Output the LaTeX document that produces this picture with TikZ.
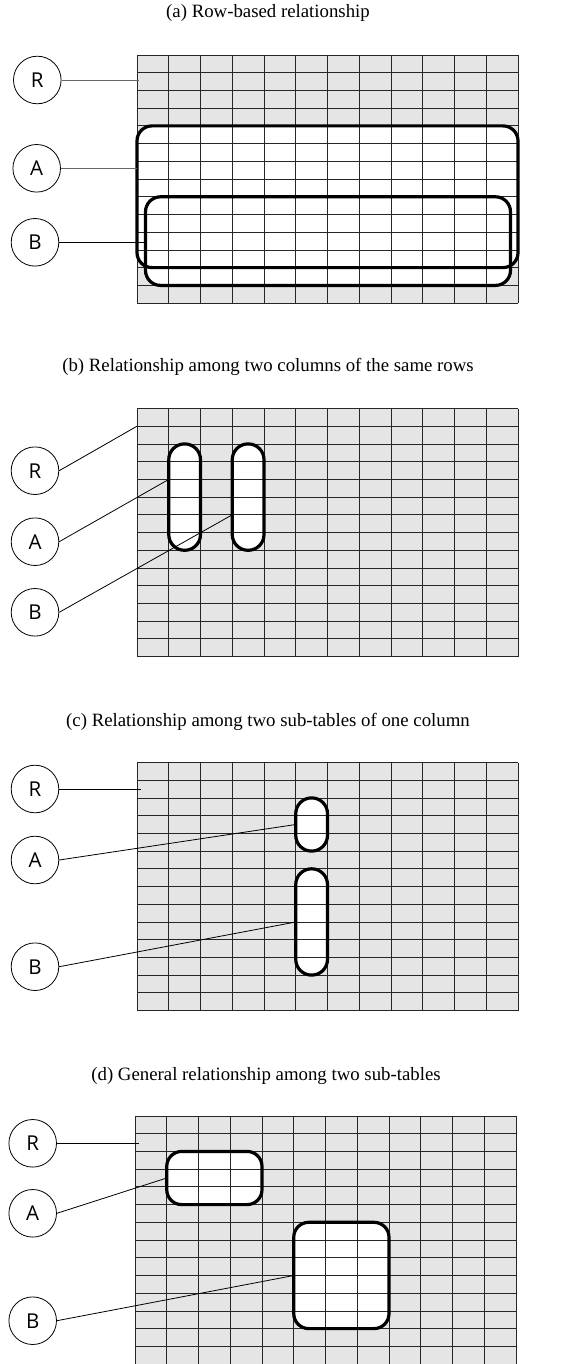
\documentclass[tikz,border=0pt]{standalone}
\usepackage{fontspec}
\setmainfont{Liberation Serif}
\newfontfamily\labelfont{Open Sans}
\usepackage{tikz}
\usetikzlibrary{positioning}

% lines of a 12 x 14 table, top left corner at (#1,#2)
\newcommand{\tablegrid}[2]{%
  \foreach \i in {0,...,12}
    \draw[gline] ({#1+\i*31.75},#2) -- ({#1+\i*31.75},{#2+248.1});
  \foreach \j in {0,...,14}
    \draw[gline] (#1,{#2+\j*17.72}) -- ({#1+381},{#2+\j*17.72});
}

\begin{document}
\begin{tikzpicture}[
    x=1pt, y=-1pt,
    circ/.style={draw, circle, line width=0.8pt, minimum size=47.6pt, inner sep=0pt,
        font=\labelfont\fontsize{20.5}{20.5}\selectfont},
    ttl/.style={font=\fontsize{18.8}{22}\selectfont},
    tablebg/.style={fill=black!10},
    gline/.style={draw=black!85, line width=0.8pt},
    sel/.style={draw, line width=3.2pt, rounded corners=15pt},
    selfill/.style={fill=white, rounded corners=15pt},
    pill/.style={rounded corners=15.8pt},
    conn/.style={line width=0.8pt},
]
\useasboundingbox (0,0) rectangle (587,1364);

% (a) Row-based
\node[ttl] (titlea) at (268,13) {(a) Row-based relationship};
\fill[tablebg] (137,55) rectangle +(381,248.1);
\fill[selfill] (137,125.9) rectangle (518,267.6);
\fill[selfill] (145.5,196.8) rectangle (510.5,285.4);
\tablegrid{137}{55}
\draw[sel] (137,125.9) rectangle (518,267.6);
\draw[sel] (145.5,196.8) rectangle (510.5,285.4);

\node[circ] (Ra) at (37.3,80) {R};
\node[circ] (Aa) at (36.7,168.3) {A};
\node[circ] (Ba) at (35,242.3) {B};
\coordinate (Ra-end) at (139,80);
\coordinate (Aa-end) at (137,168.3);
\coordinate (Ba-end) at (145.5,242.3);
\draw[conn, black!60] (Ra) -- (Ra-end);
\draw[conn, black!60] (Aa) -- (Aa-end);
\draw[conn] (Ba) -- (Ba-end);

% (b) Two columns, same rows
\node[ttl] (titleb) at (268,366.7) {(b) Relationship among two columns of the same rows};
\fill[tablebg] (137,408.5) rectangle +(381,248.1);
\fill[selfill, pill] (168.75,443.9) rectangle (200.5,550.3);
\fill[selfill, pill] (232.25,443.9) rectangle (264,550.3);
\tablegrid{137}{408.5}
\draw[sel, pill] (168.75,443.9) rectangle (200.5,550.3);
\draw[sel, pill] (232.25,443.9) rectangle (264,550.3);

\node[circ] (Rb) at (35,470.7) {R};
\node[circ] (Ab) at (35,541.7) {A};
\node[circ] (Bb) at (35,612.3) {B};
\coordinate (Rb-end) at (137,426.2);
\coordinate (Ab-end) at (168.75,479.4);
\coordinate (Bb-end) at (232.25,514.8);
\draw[conn] (Rb.east) -- (Rb-end);
\draw[conn] (Ab.east) -- (Ab-end);
\draw[conn] (Bb.east) -- (Bb-end);

% (c) Two sub-tables of one column
\node[ttl] (titlec) at (268,721.7) {(c) Relationship among two sub-tables of one column};
\fill[tablebg] (137,762.5) rectangle +(381,248.1);
\fill[selfill, pill] (295.75,797.9) rectangle (327.5,851.1);
\fill[selfill, pill] (295.75,868.8) rectangle (327.5,975.1);
\tablegrid{137}{762.5}
\draw[sel, pill] (295.75,797.9) rectangle (327.5,851.1);
\draw[sel, pill] (295.75,868.8) rectangle (327.5,975.1);

\node[circ] (Rc) at (35,789) {R};
\node[circ] (Ac) at (35,860) {A};
\node[circ] (Bc) at (35,966.7) {B};
\coordinate (Rc-end) at (141,789);
\coordinate (Ac-end) at (295.75,824.5);
\coordinate (Bc-end) at (295.75,922);
\draw[conn] (Rc.east) -- (Rc-end);
\draw[conn] (Ac.east) -- (Ac-end);
\draw[conn] (Bc.east) -- (Bc-end);

% (d) General sub-tables
\node[ttl] (titled) at (266,1076) {(d) General relationship among two sub-tables};
\fill[tablebg] (135,1116) rectangle +(381,248.1);
\fill[selfill] (166.75,1151.4) rectangle (262,1204.6);
\fill[selfill] (293.75,1222.3) rectangle (389,1328.6);
\tablegrid{135}{1116}
\draw[sel] (166.75,1151.4) rectangle (262,1204.6);
\draw[sel] (293.75,1222.3) rectangle (389,1328.6);

\node[circ] (Rd) at (32.7,1143.3) {R};
\node[circ] (Ad) at (32.7,1213.3) {A};
\node[circ] (Bd) at (32.7,1320.7) {B};
\coordinate (Rd-end) at (138.5,1143.3);
\coordinate (Ad-end) at (166.75,1178);
\coordinate (Bd-end) at (293.75,1275.5);
\draw[conn] (Rd.east) -- (Rd-end);
\draw[conn] (Ad.east) -- (Ad-end);
\draw[conn] (Bd.east) -- (Bd-end);
\end{tikzpicture}
\end{document}
